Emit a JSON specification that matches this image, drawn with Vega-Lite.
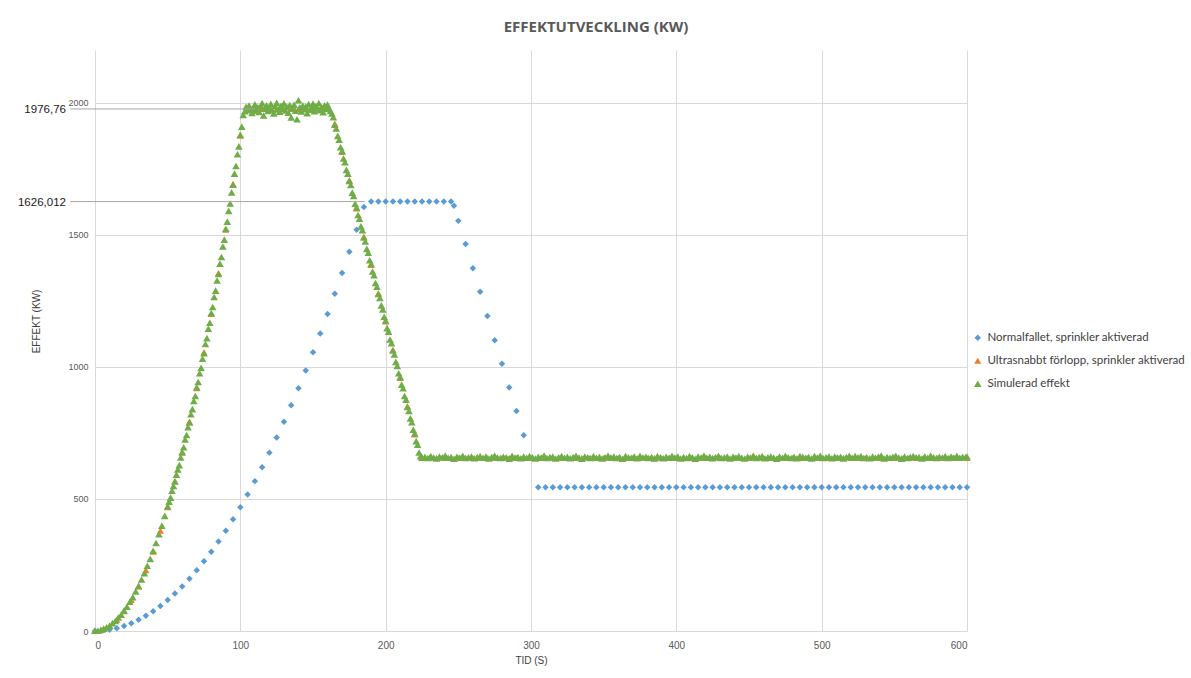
{
"$schema": "https://vega.github.io/schema/vega-lite/v6.json",
"autosize": {"type": "none"},
"width": 872,
"height": 581,
"padding": {"left": 95, "top": 50, "right": 224, "bottom": 47},
"background": "white",
"title": {"text": "EFFEKTUTVECKLING (KW)", "font": "Open Sans", "fontSize": 15, "fontWeight": "bold", "color": "#595959", "anchor": "middle", "frame": "group", "dx": 65, "offset": 15},
"config": {
  "view": {"stroke": null},
  "axis": {"domain": false, "ticks": false, "gridColor": "#d9d9d9", "gridWidth": 1, "labelFont": "Liberation Sans", "labelColor": "#595959", "titleFont": "Liberation Sans", "titleFontWeight": "normal", "titleColor": "#404040", "titleFontSize": 10}
},
"layer": [
{
  "data": {"values": [
{"k":"N","t":0,"v":0},{"k":"N","t":5,"v":1.2},{"k":"N","t":10,"v":4.7},{"k":"N","t":15,"v":10.6},{"k":"N","t":20,"v":18.8},{"k":"N","t":25,"v":29.3},{"k":"N","t":30,"v":42.2},{"k":"N","t":35,"v":57.5},{"k":"N","t":40,"v":75},{"k":"N","t":45,"v":95},{"k":"N","t":50,"v":117.3},{"k":"N","t":55,"v":141.9},{"k":"N","t":60,"v":168.8},{"k":"N","t":65,"v":198.2},{"k":"N","t":70,"v":229.8},{"k":"N","t":75,"v":263.8},{"k":"N","t":80,"v":300.2},{"k":"N","t":85,"v":338.9},{"k":"N","t":90,"v":379.9},{"k":"N","t":95,"v":423.3},{"k":"N","t":100,"v":469},{"k":"N","t":105,"v":517.1},{"k":"N","t":110,"v":567.5},{"k":"N","t":115,"v":620.3},{"k":"N","t":120,"v":675.4},{"k":"N","t":125,"v":732.8},{"k":"N","t":130,"v":792.6},{"k":"N","t":135,"v":854.7},{"k":"N","t":140,"v":919.2},{"k":"N","t":145,"v":986.1},{"k":"N","t":150,"v":1055.3},{"k":"N","t":155,"v":1126.8},{"k":"N","t":160,"v":1200.6},{"k":"N","t":165,"v":1276.9},{"k":"N","t":170,"v":1355.4},{"k":"N","t":175,"v":1436.3},{"k":"N","t":180,"v":1519.6},{"k":"N","t":185,"v":1605.1},
{"k":"N","t":190,"v":1626.012},{"k":"N","t":195,"v":1626.012},{"k":"N","t":200,"v":1626.012},{"k":"N","t":205,"v":1626.012},{"k":"N","t":210,"v":1626.012},{"k":"N","t":215,"v":1626.012},{"k":"N","t":220,"v":1626.012},{"k":"N","t":225,"v":1626.012},{"k":"N","t":230,"v":1626.012},{"k":"N","t":235,"v":1626.012},{"k":"N","t":240,"v":1626.012},{"k":"N","t":245,"v":1626.012},{"k":"N","t":247,"v":1610},
{"k":"N","t":250,"v":1553},{"k":"N","t":255,"v":1465},{"k":"N","t":260,"v":1374},{"k":"N","t":265,"v":1285},{"k":"N","t":270,"v":1193},{"k":"N","t":275,"v":1101},{"k":"N","t":280,"v":1012},{"k":"N","t":285,"v":922},{"k":"N","t":290,"v":833},{"k":"N","t":295,"v":741},
{"k":"N","t":305,"v":544},{"k":"N","t":310,"v":544},{"k":"N","t":315,"v":544},{"k":"N","t":320,"v":544},{"k":"N","t":325,"v":544},{"k":"N","t":330,"v":544},{"k":"N","t":335,"v":544},{"k":"N","t":340,"v":544},{"k":"N","t":345,"v":544},{"k":"N","t":350,"v":544},{"k":"N","t":355,"v":544},{"k":"N","t":360,"v":544},{"k":"N","t":365,"v":544},{"k":"N","t":370,"v":544},{"k":"N","t":375,"v":544},{"k":"N","t":380,"v":544},{"k":"N","t":385,"v":544},{"k":"N","t":390,"v":544},{"k":"N","t":395,"v":544},{"k":"N","t":400,"v":544},{"k":"N","t":405,"v":544},{"k":"N","t":410,"v":544},{"k":"N","t":415,"v":544},{"k":"N","t":420,"v":544},{"k":"N","t":425,"v":544},{"k":"N","t":430,"v":544},{"k":"N","t":435,"v":544},{"k":"N","t":440,"v":544},{"k":"N","t":445,"v":544},{"k":"N","t":450,"v":544},{"k":"N","t":455,"v":544},{"k":"N","t":460,"v":544},{"k":"N","t":465,"v":544},{"k":"N","t":470,"v":544},{"k":"N","t":475,"v":544},{"k":"N","t":480,"v":544},{"k":"N","t":485,"v":544},{"k":"N","t":490,"v":544},{"k":"N","t":495,"v":544},{"k":"N","t":500,"v":544},{"k":"N","t":505,"v":544},{"k":"N","t":510,"v":544},{"k":"N","t":515,"v":544},{"k":"N","t":520,"v":544},{"k":"N","t":525,"v":544},{"k":"N","t":530,"v":544},{"k":"N","t":535,"v":544},{"k":"N","t":540,"v":544},{"k":"N","t":545,"v":544},{"k":"N","t":550,"v":544},{"k":"N","t":555,"v":544},{"k":"N","t":560,"v":544},{"k":"N","t":565,"v":544},{"k":"N","t":570,"v":544},{"k":"N","t":575,"v":544},{"k":"N","t":580,"v":544},{"k":"N","t":585,"v":544},{"k":"N","t":590,"v":544},{"k":"N","t":595,"v":544},{"k":"N","t":600,"v":544},
{"k":"U","t":0,"v":0},{"k":"U","t":5,"v":4.7},{"k":"U","t":10,"v":18.8},{"k":"U","t":15,"v":42.2},{"k":"U","t":20,"v":75},{"k":"U","t":25,"v":117.3},{"k":"U","t":30,"v":168.8},{"k":"U","t":35,"v":229.8},{"k":"U","t":40,"v":300.2},{"k":"U","t":45,"v":379.9},{"k":"U","t":50,"v":469},{"k":"U","t":55,"v":567.5},{"k":"U","t":60,"v":675.4},{"k":"U","t":65,"v":792.6},{"k":"U","t":70,"v":919.2},{"k":"U","t":75,"v":1055.3},{"k":"U","t":80,"v":1200.6},{"k":"U","t":85,"v":1355.4},{"k":"U","t":90,"v":1519.6},{"k":"U","t":95,"v":1693.1},{"k":"U","t":100,"v":1876},
{"k":"U","t":105,"v":1976.76},{"k":"U","t":110,"v":1976.76},{"k":"U","t":115,"v":1976.76},{"k":"U","t":120,"v":1976.76},{"k":"U","t":125,"v":1976.76},{"k":"U","t":130,"v":1976.76},{"k":"U","t":135,"v":1976.76},{"k":"U","t":140,"v":1976.76},{"k":"U","t":145,"v":1976.76},{"k":"U","t":150,"v":1976.76},{"k":"U","t":155,"v":1976.76},{"k":"U","t":160,"v":1976.76},
{"k":"U","t":165,"v":1921},{"k":"U","t":170,"v":1814},{"k":"U","t":175,"v":1707},{"k":"U","t":180,"v":1600},{"k":"U","t":185,"v":1493},{"k":"U","t":190,"v":1386},{"k":"U","t":195,"v":1279},{"k":"U","t":200,"v":1172},{"k":"U","t":205,"v":1065},{"k":"U","t":210,"v":958},{"k":"U","t":215,"v":851},{"k":"U","t":220,"v":744},
{"k":"U","t":225,"v":655},{"k":"U","t":230,"v":655},{"k":"U","t":235,"v":655},{"k":"U","t":240,"v":655},{"k":"U","t":245,"v":655},{"k":"U","t":250,"v":655},{"k":"U","t":255,"v":655},{"k":"U","t":260,"v":655},{"k":"U","t":265,"v":655},{"k":"U","t":270,"v":655},{"k":"U","t":275,"v":655},{"k":"U","t":280,"v":655},{"k":"U","t":285,"v":655},{"k":"U","t":290,"v":655},{"k":"U","t":295,"v":655},{"k":"U","t":300,"v":655},{"k":"U","t":305,"v":655},{"k":"U","t":310,"v":655},{"k":"U","t":315,"v":655},{"k":"U","t":320,"v":655},{"k":"U","t":325,"v":655},{"k":"U","t":330,"v":655},{"k":"U","t":335,"v":655},{"k":"U","t":340,"v":655},{"k":"U","t":345,"v":655},{"k":"U","t":350,"v":655},{"k":"U","t":355,"v":655},{"k":"U","t":360,"v":655},{"k":"U","t":365,"v":655},{"k":"U","t":370,"v":655},{"k":"U","t":375,"v":655},{"k":"U","t":380,"v":655},{"k":"U","t":385,"v":655},{"k":"U","t":390,"v":655},{"k":"U","t":395,"v":655},{"k":"U","t":400,"v":655},{"k":"U","t":405,"v":655},{"k":"U","t":410,"v":655},{"k":"U","t":415,"v":655},{"k":"U","t":420,"v":655},{"k":"U","t":425,"v":655},{"k":"U","t":430,"v":655},{"k":"U","t":435,"v":655},{"k":"U","t":440,"v":655},{"k":"U","t":445,"v":655},{"k":"U","t":450,"v":655},{"k":"U","t":455,"v":655},{"k":"U","t":460,"v":655},{"k":"U","t":465,"v":655},{"k":"U","t":470,"v":655},{"k":"U","t":475,"v":655},{"k":"U","t":480,"v":655},{"k":"U","t":485,"v":655},{"k":"U","t":490,"v":655},{"k":"U","t":495,"v":655},{"k":"U","t":500,"v":655},{"k":"U","t":505,"v":655},{"k":"U","t":510,"v":655},{"k":"U","t":515,"v":655},{"k":"U","t":520,"v":655},{"k":"U","t":525,"v":655},{"k":"U","t":530,"v":655},{"k":"U","t":535,"v":655},{"k":"U","t":540,"v":655},{"k":"U","t":545,"v":655},{"k":"U","t":550,"v":655},{"k":"U","t":555,"v":655},{"k":"U","t":560,"v":655},{"k":"U","t":565,"v":655},{"k":"U","t":570,"v":655},{"k":"U","t":575,"v":655},{"k":"U","t":580,"v":655},{"k":"U","t":585,"v":655},{"k":"U","t":590,"v":655},{"k":"U","t":595,"v":655},{"k":"U","t":600,"v":655},
{"k":"S","t":0,"v":2},{"k":"S","t":2,"v":1},{"k":"S","t":4,"v":5},{"k":"S","t":6,"v":9},{"k":"S","t":8,"v":14},{"k":"S","t":10,"v":20},{"k":"S","t":12,"v":30},{"k":"S","t":14,"v":38},{"k":"S","t":16,"v":51},{"k":"S","t":18,"v":62},{"k":"S","t":20,"v":78},{"k":"S","t":22,"v":92},{"k":"S","t":24,"v":111},{"k":"S","t":26,"v":128},{"k":"S","t":28,"v":150},{"k":"S","t":30,"v":171},{"k":"S","t":32,"v":195},{"k":"S","t":34,"v":219},{"k":"S","t":36,"v":247},{"k":"S","t":38,"v":273},{"k":"S","t":40,"v":304},{"k":"S","t":42,"v":333},{"k":"S","t":44,"v":367},{"k":"S","t":46,"v":399},{"k":"S","t":48,"v":436},{"k":"S","t":50,"v":472},
{"k":"S","t":51,"v":490},{"k":"S","t":52,"v":505},{"k":"S","t":53,"v":531},{"k":"S","t":54,"v":549},{"k":"S","t":55,"v":566},{"k":"S","t":56,"v":592},{"k":"S","t":57,"v":612},{"k":"S","t":58,"v":628},{"k":"S","t":59,"v":657},{"k":"S","t":60,"v":678},{"k":"S","t":61,"v":696},{"k":"S","t":62,"v":725},{"k":"S","t":63,"v":742},{"k":"S","t":64,"v":772},{"k":"S","t":65,"v":790},{"k":"S","t":66,"v":821},{"k":"S","t":67,"v":840},{"k":"S","t":68,"v":871},{"k":"S","t":69,"v":890},{"k":"S","t":70,"v":923},{"k":"S","t":71,"v":943},{"k":"S","t":72,"v":976},{"k":"S","t":73,"v":997},{"k":"S","t":74,"v":1031},{"k":"S","t":75,"v":1052},{"k":"S","t":76,"v":1087},{"k":"S","t":77,"v":1109},{"k":"S","t":78,"v":1145},{"k":"S","t":79,"v":1167},{"k":"S","t":80,"v":1204},{"k":"S","t":81,"v":1227},{"k":"S","t":82,"v":1265},{"k":"S","t":83,"v":1289},{"k":"S","t":84,"v":1327},{"k":"S","t":85,"v":1352},{"k":"S","t":86,"v":1391},{"k":"S","t":87,"v":1416},{"k":"S","t":88,"v":1456},{"k":"S","t":89,"v":1482},{"k":"S","t":90,"v":1523},{"k":"S","t":91,"v":1550},{"k":"S","t":92,"v":1591},{"k":"S","t":93,"v":1619},{"k":"S","t":94,"v":1661},{"k":"S","t":95,"v":1690},{"k":"S","t":96,"v":1732},{"k":"S","t":97,"v":1761},{"k":"S","t":98,"v":1805},{"k":"S","t":99,"v":1835},{"k":"S","t":100,"v":1879},{"k":"S","t":101,"v":1910},{"k":"S","t":102,"v":1954},
{"k":"S","t":103,"v":1968},{"k":"S","t":104,"v":1985},{"k":"S","t":105,"v":1972},{"k":"S","t":106,"v":1990},{"k":"S","t":107,"v":1976},{"k":"S","t":108,"v":1962},{"k":"S","t":109,"v":1981},{"k":"S","t":110,"v":1994},{"k":"S","t":111,"v":1970},{"k":"S","t":112,"v":1983},{"k":"S","t":113,"v":1965},{"k":"S","t":114,"v":1988},{"k":"S","t":115,"v":1999},{"k":"S","t":116,"v":1952},{"k":"S","t":117,"v":1978},{"k":"S","t":118,"v":1991},{"k":"S","t":119,"v":1969},{"k":"S","t":120,"v":1984},{"k":"S","t":121,"v":1996},{"k":"S","t":122,"v":1973},{"k":"S","t":123,"v":1960},{"k":"S","t":124,"v":1987},{"k":"S","t":125,"v":2000},{"k":"S","t":126,"v":1975},{"k":"S","t":127,"v":1966},{"k":"S","t":128,"v":1989},{"k":"S","t":129,"v":1979},{"k":"S","t":130,"v":1998},{"k":"S","t":131,"v":1971},{"k":"S","t":132,"v":1985},{"k":"S","t":133,"v":1963},{"k":"S","t":134,"v":1992},{"k":"S","t":135,"v":1945},{"k":"S","t":136,"v":1980},{"k":"S","t":137,"v":1993},{"k":"S","t":138,"v":1970},{"k":"S","t":139,"v":1938},{"k":"S","t":140,"v":2010},{"k":"S","t":141,"v":1983},{"k":"S","t":142,"v":1967},{"k":"S","t":143,"v":1990},{"k":"S","t":144,"v":1976},{"k":"S","t":145,"v":1986},{"k":"S","t":146,"v":1961},{"k":"S","t":147,"v":1995},{"k":"S","t":148,"v":1974},{"k":"S","t":149,"v":1982},{"k":"S","t":150,"v":1997},{"k":"S","t":151,"v":1968},{"k":"S","t":152,"v":1988},{"k":"S","t":153,"v":1979},{"k":"S","t":154,"v":1999},{"k":"S","t":155,"v":1972},{"k":"S","t":156,"v":1984},{"k":"S","t":157,"v":1964},{"k":"S","t":158,"v":1991},{"k":"S","t":159,"v":1977},{"k":"S","t":160,"v":1993},{"k":"S","t":161,"v":1980},{"k":"S","t":162,"v":1969},
{"k":"S","t":163,"v":1960},{"k":"S","t":164,"v":1946},{"k":"S","t":165,"v":1917},{"k":"S","t":166,"v":1903},{"k":"S","t":167,"v":1875},{"k":"S","t":168,"v":1860},{"k":"S","t":169,"v":1832},{"k":"S","t":170,"v":1818},{"k":"S","t":171,"v":1789},{"k":"S","t":172,"v":1775},{"k":"S","t":173,"v":1746},{"k":"S","t":174,"v":1732},{"k":"S","t":175,"v":1704},{"k":"S","t":176,"v":1689},{"k":"S","t":177,"v":1660},{"k":"S","t":178,"v":1647},{"k":"S","t":179,"v":1618},{"k":"S","t":180,"v":1604},{"k":"S","t":181,"v":1575},{"k":"S","t":182,"v":1561},{"k":"S","t":183,"v":1532},{"k":"S","t":184,"v":1518},{"k":"S","t":185,"v":1490},{"k":"S","t":186,"v":1475},{"k":"S","t":187,"v":1447},{"k":"S","t":188,"v":1432},{"k":"S","t":189,"v":1404},{"k":"S","t":190,"v":1390},{"k":"S","t":191,"v":1361},{"k":"S","t":192,"v":1347},{"k":"S","t":193,"v":1318},{"k":"S","t":194,"v":1304},{"k":"S","t":195,"v":1276},{"k":"S","t":196,"v":1261},{"k":"S","t":197,"v":1233},{"k":"S","t":198,"v":1218},{"k":"S","t":199,"v":1190},{"k":"S","t":200,"v":1176},{"k":"S","t":201,"v":1147},{"k":"S","t":202,"v":1133},{"k":"S","t":203,"v":1104},{"k":"S","t":204,"v":1090},{"k":"S","t":205,"v":1062},{"k":"S","t":206,"v":1047},{"k":"S","t":207,"v":1019},{"k":"S","t":208,"v":1004},{"k":"S","t":209,"v":976},{"k":"S","t":210,"v":962},{"k":"S","t":211,"v":933},{"k":"S","t":212,"v":919},{"k":"S","t":213,"v":890},{"k":"S","t":214,"v":876},{"k":"S","t":215,"v":848},{"k":"S","t":216,"v":833},{"k":"S","t":217,"v":805},{"k":"S","t":218,"v":791},{"k":"S","t":219,"v":762},{"k":"S","t":220,"v":748},{"k":"S","t":221,"v":719},{"k":"S","t":222,"v":705},{"k":"S","t":223,"v":676},{"k":"S","t":224,"v":662},{"k":"S","t":225,"v":657},
{"k":"S","t":227,"v":660},{"k":"S","t":229,"v":655},{"k":"S","t":231,"v":662},{"k":"S","t":233,"v":657},{"k":"S","t":235,"v":653},{"k":"S","t":237,"v":661},{"k":"S","t":239,"v":658},{"k":"S","t":241,"v":664},{"k":"S","t":243,"v":656},{"k":"S","t":245,"v":659},
{"k":"S","t":247,"v":652},{"k":"S","t":249,"v":660},{"k":"S","t":251,"v":657},{"k":"S","t":253,"v":663},{"k":"S","t":255,"v":655},{"k":"S","t":257,"v":658},{"k":"S","t":259,"v":661},{"k":"S","t":261,"v":654},{"k":"S","t":263,"v":659},{"k":"S","t":265,"v":662},
{"k":"S","t":267,"v":656},{"k":"S","t":269,"v":661},{"k":"S","t":271,"v":653},{"k":"S","t":273,"v":659},{"k":"S","t":275,"v":664},{"k":"S","t":277,"v":657},{"k":"S","t":279,"v":655},{"k":"S","t":281,"v":660},{"k":"S","t":283,"v":658},{"k":"S","t":285,"v":652},
{"k":"S","t":287,"v":663},{"k":"S","t":289,"v":657},{"k":"S","t":291,"v":659},{"k":"S","t":293,"v":654},{"k":"S","t":295,"v":661},{"k":"S","t":297,"v":656},{"k":"S","t":299,"v":662},{"k":"S","t":301,"v":658},{"k":"S","t":303,"v":653},{"k":"S","t":305,"v":660},
{"k":"S","t":307,"v":657},{"k":"S","t":309,"v":664},{"k":"S","t":311,"v":655},{"k":"S","t":313,"v":659},{"k":"S","t":315,"v":661},{"k":"S","t":317,"v":653},{"k":"S","t":319,"v":658},{"k":"S","t":321,"v":662},{"k":"S","t":323,"v":656},{"k":"S","t":325,"v":660},
{"k":"S","t":327,"v":654},{"k":"S","t":329,"v":659},{"k":"S","t":331,"v":663},{"k":"S","t":333,"v":657},{"k":"S","t":335,"v":652},{"k":"S","t":337,"v":661},{"k":"S","t":339,"v":658},{"k":"S","t":341,"v":655},{"k":"S","t":343,"v":662},{"k":"S","t":345,"v":656},
{"k":"S","t":347,"v":660},{"k":"S","t":349,"v":653},{"k":"S","t":351,"v":658},{"k":"S","t":353,"v":664},{"k":"S","t":355,"v":657},{"k":"S","t":357,"v":661},{"k":"S","t":359,"v":655},{"k":"S","t":361,"v":659},{"k":"S","t":363,"v":652},{"k":"S","t":365,"v":662},
{"k":"S","t":367,"v":658},{"k":"S","t":369,"v":656},{"k":"S","t":371,"v":661},{"k":"S","t":373,"v":654},{"k":"S","t":375,"v":663},{"k":"S","t":377,"v":657},{"k":"S","t":379,"v":660},{"k":"S","t":381,"v":655},{"k":"S","t":383,"v":659},{"k":"S","t":385,"v":653},
{"k":"S","t":387,"v":662},{"k":"S","t":389,"v":658},{"k":"S","t":391,"v":654},{"k":"S","t":393,"v":660},{"k":"S","t":395,"v":656},{"k":"S","t":397,"v":663},{"k":"S","t":399,"v":657},{"k":"S","t":401,"v":661},{"k":"S","t":403,"v":653},{"k":"S","t":405,"v":659},
{"k":"S","t":407,"v":655},{"k":"S","t":409,"v":662},{"k":"S","t":411,"v":658},{"k":"S","t":413,"v":652},{"k":"S","t":415,"v":661},{"k":"S","t":417,"v":657},{"k":"S","t":419,"v":664},{"k":"S","t":421,"v":656},{"k":"S","t":423,"v":660},{"k":"S","t":425,"v":654},
{"k":"S","t":427,"v":659},{"k":"S","t":429,"v":663},{"k":"S","t":431,"v":655},{"k":"S","t":433,"v":658},{"k":"S","t":435,"v":661},{"k":"S","t":437,"v":653},{"k":"S","t":439,"v":660},{"k":"S","t":441,"v":657},{"k":"S","t":443,"v":662},{"k":"S","t":445,"v":656},
{"k":"S","t":447,"v":653},{"k":"S","t":449,"v":660},{"k":"S","t":451,"v":657},{"k":"S","t":453,"v":664},{"k":"S","t":455,"v":655},{"k":"S","t":457,"v":659},{"k":"S","t":459,"v":662},{"k":"S","t":461,"v":654},{"k":"S","t":463,"v":658},{"k":"S","t":465,"v":661},
{"k":"S","t":467,"v":657},{"k":"S","t":469,"v":652},{"k":"S","t":471,"v":661},{"k":"S","t":473,"v":656},{"k":"S","t":475,"v":663},{"k":"S","t":477,"v":658},{"k":"S","t":479,"v":655},{"k":"S","t":481,"v":660},{"k":"S","t":483,"v":654},{"k":"S","t":485,"v":662},
{"k":"S","t":487,"v":660},{"k":"S","t":489,"v":656},{"k":"S","t":491,"v":659},{"k":"S","t":493,"v":653},{"k":"S","t":495,"v":662},{"k":"S","t":497,"v":657},{"k":"S","t":499,"v":664},{"k":"S","t":501,"v":655},{"k":"S","t":503,"v":658},{"k":"S","t":505,"v":661},
{"k":"S","t":507,"v":654},{"k":"S","t":509,"v":661},{"k":"S","t":511,"v":657},{"k":"S","t":513,"v":660},{"k":"S","t":515,"v":653},{"k":"S","t":517,"v":659},{"k":"S","t":519,"v":663},{"k":"S","t":521,"v":656},{"k":"S","t":523,"v":662},{"k":"S","t":525,"v":658},
{"k":"S","t":527,"v":662},{"k":"S","t":529,"v":655},{"k":"S","t":531,"v":658},{"k":"S","t":533,"v":654},{"k":"S","t":535,"v":661},{"k":"S","t":537,"v":657},{"k":"S","t":539,"v":660},{"k":"S","t":541,"v":664},{"k":"S","t":543,"v":653},{"k":"S","t":545,"v":659},
{"k":"S","t":547,"v":656},{"k":"S","t":549,"v":660},{"k":"S","t":551,"v":663},{"k":"S","t":553,"v":657},{"k":"S","t":555,"v":652},{"k":"S","t":557,"v":661},{"k":"S","t":559,"v":655},{"k":"S","t":561,"v":659},{"k":"S","t":563,"v":662},{"k":"S","t":565,"v":658},
{"k":"S","t":567,"v":659},{"k":"S","t":569,"v":653},{"k":"S","t":571,"v":661},{"k":"S","t":573,"v":656},{"k":"S","t":575,"v":664},{"k":"S","t":577,"v":658},{"k":"S","t":579,"v":655},{"k":"S","t":581,"v":660},{"k":"S","t":583,"v":657},{"k":"S","t":585,"v":662},
{"k":"S","t":587,"v":655},{"k":"S","t":589,"v":661},{"k":"S","t":591,"v":657},{"k":"S","t":593,"v":663},{"k":"S","t":595,"v":656},{"k":"S","t":597,"v":660},{"k":"S","t":599,"v":658},{"k":"S","t":600,"v":661}
  ]},
  "mark": {"type": "point", "filled": true, "opacity": 1},
  "encoding": {
    "x": {"field": "t", "type": "quantitative", "title": "TID (S)", "scale": {"domain": [0, 600], "nice": false, "zero": false}, "axis": {"values": [0, 100, 200, 300, 400, 500, 600], "format": "d", "labelPadding": 9, "labelFontSize": 10, "titlePadding": 5}},
    "y": {"field": "v", "type": "quantitative", "title": "EFFEKT (KW)", "scale": {"domain": [0, 2200], "nice": false}, "axis": {"values": [0, 500, 1000, 1500, 2000], "format": "d", "labelFontSize": 9, "labelPadding": 7, "titleX": -59, "titleY": 271, "titleBaseline": "middle"}},
    "size": {"field": "k", "type": "nominal", "scale": {"domain": ["N", "U", "S"], "range": [42, 58, 58]}, "legend": null},
    "color": {"field": "k", "type": "nominal", "scale": {"domain": ["N", "U", "S"], "range": ["#5B9BD5", "#ED7D31", "#70AD47"]},
      "legend": {"title": null, "orient": "none", "legendX": 877, "legendY": 282, "padding": 0, "labelFont": "Lato", "labelFontSize": 11.5, "labelColor": "#404040", "labelLimit": 320, "symbolSize": 30, "rowPadding": 10, "labelOffset": 4,
        "labelExpr": "datum.label == 'N' ? 'Normalfallet, sprinkler aktiverad' : datum.label == 'U' ? 'Ultrasnabbt förlopp, sprinkler aktiverad' : 'Simulerad effekt'"}},
    "shape": {"field": "k", "type": "nominal", "scale": {"domain": ["N", "U", "S"], "range": ["diamond", "triangle-up", "triangle-up"]}}
  }
},
{
  "data": {"values": [{"lab": "1976,76", "v": 1976.76, "t": 110}, {"lab": "1626,012", "v": 1626.012, "t": 185.5}]},
  "mark": {"type": "rule", "color": "#a6a6a6", "strokeWidth": 1},
  "encoding": {
    "x": {"field": "t", "type": "quantitative"},
    "x2": {"datum": -17},
    "y": {"field": "v", "type": "quantitative"}
  }
},
{
  "data": {"values": [{"lab": "1976,76", "v": 1976.76, "t": 110}, {"lab": "1626,012", "v": 1626.012, "t": 185.5}]},
  "mark": {"type": "text", "align": "right", "baseline": "middle", "dy": 1.5, "font": "Liberation Sans", "fontSize": 11.5, "color": "#1a1a1a"},
  "encoding": {
    "x": {"datum": -20, "type": "quantitative"},
    "y": {"field": "v", "type": "quantitative"},
    "text": {"field": "lab"}
  }
}
]
}
